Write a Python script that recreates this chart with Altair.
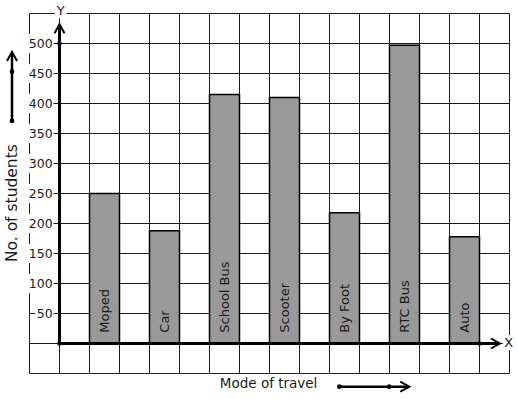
import altair as alt
import pandas as pd

# ---- data ----
modes = ["Moped", "Car", "School Bus", "Scooter", "By Foot", "RTC Bus", "Auto"]
students = [250, 188, 415, 410, 218, 497, 178]
tick_values = [50, 100, 150, 200, 250, 300, 350, 400, 450, 500]
tick_labels = [str(v) for v in tick_values]
x_grid = list(range(-1, 16))
y_grid = list(range(-50, 551, 50))

FONT = "DejaVu Sans"
INK = "#1a1a1a"

bars = pd.DataFrame({"mode": modes, "students": students})
bars["x0"] = [2 * i + 1 for i in range(len(modes))]
bars["x1"] = bars["x0"] + 1
bars["xc"] = bars["x0"] + 0.5
bars["base"] = 0

ticks = pd.DataFrame({"v": tick_values, "label": tick_labels})
ticks["xt"] = -0.23
ticks["xr"] = -0.2
ticks["xl"] = [-0.2 - (len(s) * 7.6 + 3) / 30 for s in tick_labels]
ticks["y0"] = ticks["v"] - 16
ticks["y1"] = ticks["v"] + 16

vgrid = pd.DataFrame({"g": x_grid, "lo": -50, "hi": 550})
hgrid = pd.DataFrame({"g": y_grid, "lo": -1, "hi": 15})

# domains shifted by half a pixel so 1px lines fall on pixel centres
xs = alt.Scale(domain=[-1 - 1 / 60, 15 - 1 / 60], nice=False, zero=False)
ys = alt.Scale(domain=[-50 + 5 / 6, 550 + 5 / 6], nice=False, zero=False)


def X(f, **kw):
    return alt.X(f, scale=xs, axis=None, **kw)


def Y(f, **kw):
    return alt.Y(f, scale=ys, axis=None, **kw)


def DX(v):
    return alt.X(datum=v, scale=xs, axis=None)


def DY(v):
    return alt.Y(datum=v, scale=ys, axis=None)


vgrid_layer = alt.Chart(vgrid).mark_rule(color=INK, strokeWidth=1).encode(
    x=X("g:Q"), y=Y("lo:Q"), y2="hi:Q",
)
hgrid_layer = alt.Chart(hgrid).mark_rule(color=INK, strokeWidth=1).encode(
    y=Y("g:Q"), x=X("lo:Q"), x2="hi:Q",
)

bar_layer = alt.Chart(bars).mark_rect(fill="#999999", stroke="black", strokeWidth=1.5).encode(
    x=X("x0:Q"), x2="x1:Q", y=Y("base:Q"), y2="students:Q",
)

bar_text = alt.Chart(bars).mark_text(
    angle=270, align="left", baseline="middle", font=FONT, fontSize=13, color=INK
).encode(
    x=X("xc:Q"), y=DY(18), text="mode:N",
)

label_bg = alt.Chart(ticks).mark_rect(fill="white").encode(
    x=X("xl:Q"), x2="xr:Q", y=Y("y0:Q"), y2="y1:Q",
)

label_text = alt.Chart(ticks).mark_text(
    align="right", baseline="middle", font=FONT, fontSize=12.5, color=INK
).encode(
    x=X("xt:Q"), y=Y("v:Q"), text="label:N",
)


def white_box(x1, x2, y1, y2):
    return alt.Chart().mark_rect(fill="white").encode(
        x=DX(x1), x2=alt.X2(datum=x2), y=DY(y1), y2=alt.Y2(datum=y2))


def line(x1, x2, y1, y2, w):
    return alt.Chart().mark_rule(color="black", strokeWidth=w).encode(
        x=DX(x1), x2=alt.X2(datum=x2), y=DY(y1), y2=alt.Y2(datum=y2))


def dot(x, y):
    return alt.Chart().mark_circle(color="black", size=22, opacity=1).encode(
        x=DX(x), y=DY(y))


UP = "M-1,1.8L0,0L1,1.8"
RIGHT = "M-1.8,-1L0,0L-1.8,1"


def chevron(x, y, shape):
    return alt.Chart().mark_point(shape=shape, filled=False, stroke="black",
                                  strokeWidth=2, size=100, opacity=1).encode(
        x=DX(x), y=DY(y))


def label(x, y, t, size, angle=0):
    return alt.Chart().mark_text(text=t, font=FONT, fontSize=size, color=INK,
                                 align="center", baseline="middle", angle=angle).encode(
        x=DX(x), y=DY(y))


layers = [
    vgrid_layer,
    hgrid_layer,
    label_bg,
    white_box(-0.15, 0.23, 542, 566),      # behind "Y"
    white_box(14.78, 15.2, -11, 14),       # behind "X"
    bar_layer,
    bar_text,
    label_text,
    # axes
    line(0, 0, 0, 531, 3),
    line(0, 14.66, 0, 0, 3),
    dot(0, 0), dot(0, 500), dot(14, 0),
    chevron(0, 532, UP),
    chevron(14.68, 0, RIGHT),
    label(0.04, 553.5, "Y", 13),
    label(14.97, 1, "X", 13),
    # left annotation
    label(-1.58, 234, "No. of students", 15.5, 270),
    line(-1.583, -1.583, 371, 484, 2.5),
    dot(-1.583, 371), dot(-1.583, 453),
    chevron(-1.583, 486, UP),
    # bottom annotation
    label(6.97, -67.5, "Mode of travel", 13.5),
    line(9.33, 11.62, -72, -72, 2.5),
    dot(9.33, -72), dot(10.99, -72),
    chevron(11.66, -72, RIGHT),
]

chart = alt.layer(*layers).resolve_scale(x="shared", y="shared").properties(
    width=480, height=360,
    autosize=alt.AutoSizeParams(type="none"),
    padding={"left": 29, "top": 13, "right": 8, "bottom": 26},
    background="white",
).configure_view(stroke=None)

chart.save("out.html", embed_options={"renderer": "svg", "actions": False})
